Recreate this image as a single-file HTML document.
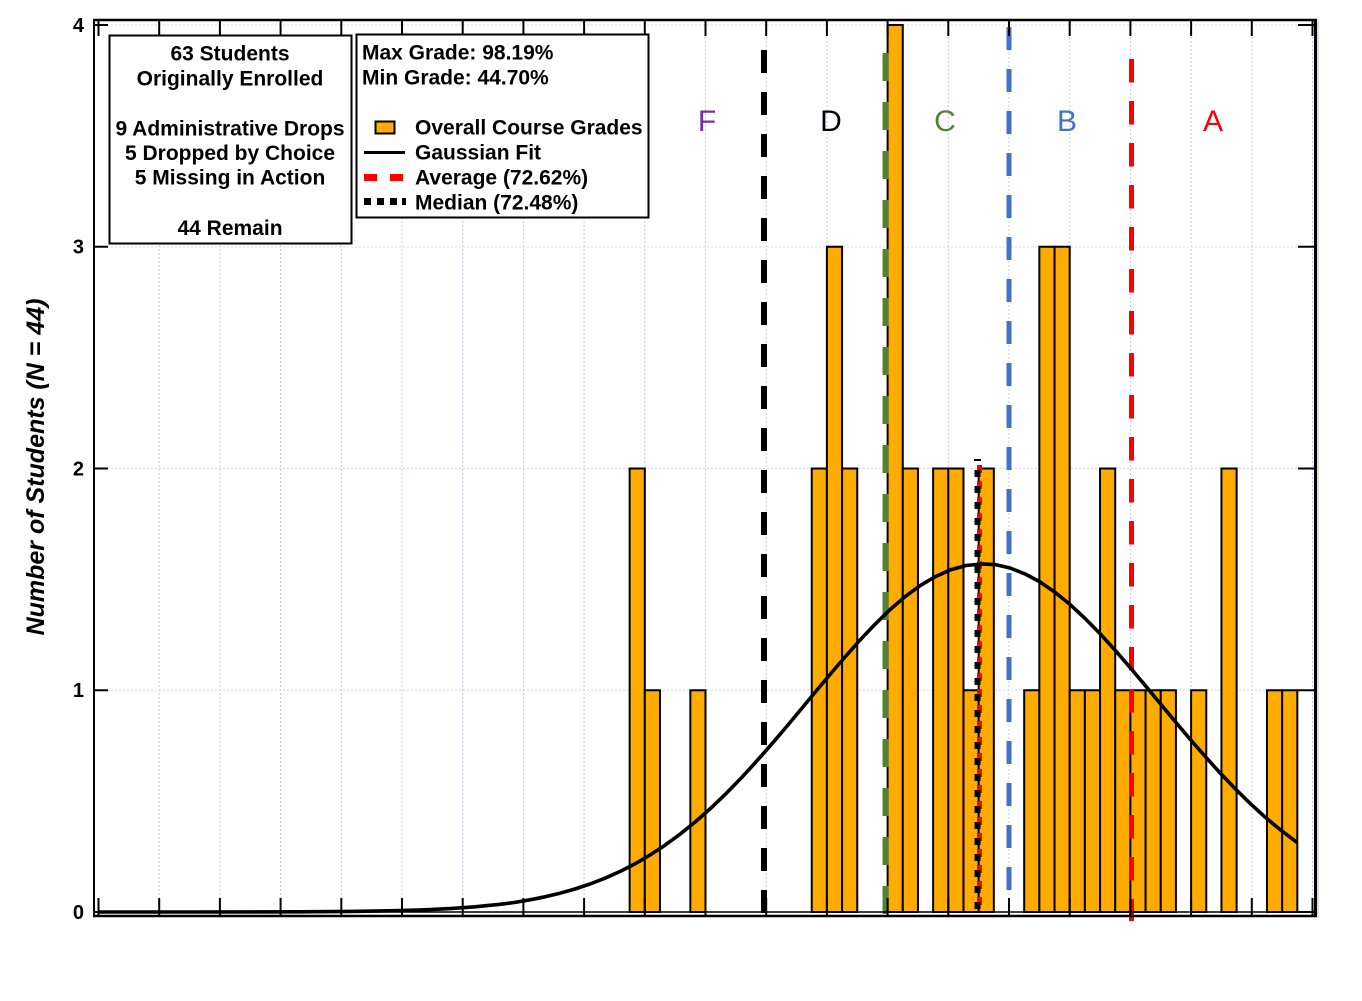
<!DOCTYPE html>
<html>
<head>
<meta charset="utf-8">
<style>
  html, body { margin: 0; padding: 0; background: #ffffff; }
  svg { display: block; }
  .t { font-family: "Liberation Sans", Arial, sans-serif; font-weight: bold; fill: #000; }
</style>
</head>
<body>
<svg width="1362" height="1001" viewBox="0 0 1362 1001" xmlns="http://www.w3.org/2000/svg">
  <rect x="0" y="0" width="1362" height="1001" fill="#ffffff"/>

  <!-- vertical grid lines -->
  <g stroke="#c4c4ff" stroke-width="1" stroke-dasharray="2,2">
    <line x1="159.2" y1="21" x2="159.2" y2="912"/>
    <line x1="219.9" y1="21" x2="219.9" y2="912"/>
    <line x1="280.6" y1="21" x2="280.6" y2="912"/>
    <line x1="341.3" y1="21" x2="341.3" y2="912"/>
    <line x1="402" y1="21" x2="402" y2="912"/>
    <line x1="462.7" y1="21" x2="462.7" y2="912"/>
    <line x1="523.4" y1="21" x2="523.4" y2="912"/>
    <line x1="584.1" y1="21" x2="584.1" y2="912"/>
    <line x1="644.8" y1="21" x2="644.8" y2="912"/>
    <line x1="705.5" y1="21" x2="705.5" y2="912"/>
    <line x1="766.2" y1="21" x2="766.2" y2="912"/>
    <line x1="826.9" y1="21" x2="826.9" y2="912"/>
    <line x1="887.6" y1="21" x2="887.6" y2="912"/>
    <line x1="948.3" y1="21" x2="948.3" y2="912"/>
    <line x1="1009" y1="21" x2="1009" y2="912"/>
    <line x1="1069.7" y1="21" x2="1069.7" y2="912"/>
    <line x1="1130.4" y1="21" x2="1130.4" y2="912"/>
    <line x1="1191.1" y1="21" x2="1191.1" y2="912"/>
    <line x1="1251.8" y1="21" x2="1251.8" y2="912"/>
    <line x1="1312.5" y1="21" x2="1312.5" y2="912"/>
  </g>
  <!-- horizontal grid lines -->
  <g stroke="#d4d4ff" stroke-width="1" stroke-dasharray="2,2">
    <line x1="95" y1="25" x2="1315" y2="25"/>
    <line x1="95" y1="247" x2="1315" y2="247"/>
    <line x1="95" y1="468.5" x2="1315" y2="468.5"/>
    <line x1="95" y1="690.25" x2="1315" y2="690.25"/>
  </g>

  <!-- bars -->
  <g fill="#ffab00" stroke="#000" stroke-width="2">
    <rect x="629.63" y="468.5" width="15.17" height="443.5"/>
    <rect x="644.8" y="690.25" width="15.17" height="221.75"/>
    <rect x="690.33" y="690.25" width="15.17" height="221.75"/>
    <rect x="811.73" y="468.5" width="15.17" height="443.5"/>
    <rect x="826.9" y="246.75" width="15.17" height="665.25"/>
    <rect x="842.08" y="468.5" width="15.17" height="443.5"/>
    <rect x="887.6" y="25" width="15.17" height="887"/>
    <rect x="902.78" y="468.5" width="15.17" height="443.5"/>
    <rect x="933.13" y="468.5" width="15.17" height="443.5"/>
    <rect x="948.3" y="468.5" width="15.17" height="443.5"/>
    <rect x="963.48" y="690.25" width="15.17" height="221.75"/>
    <rect x="978.65" y="468.5" width="15.17" height="443.5"/>
    <rect x="1024.18" y="690.25" width="15.17" height="221.75"/>
    <rect x="1039.35" y="246.75" width="15.17" height="665.25"/>
    <rect x="1054.53" y="246.75" width="15.17" height="665.25"/>
    <rect x="1069.7" y="690.25" width="15.17" height="221.75"/>
    <rect x="1084.88" y="690.25" width="15.17" height="221.75"/>
    <rect x="1100.05" y="468.5" width="15.17" height="443.5"/>
    <rect x="1115.23" y="690.25" width="15.17" height="221.75"/>
    <rect x="1130.4" y="690.25" width="15.17" height="221.75"/>
    <rect x="1145.58" y="690.25" width="15.17" height="221.75"/>
    <rect x="1160.75" y="690.25" width="15.17" height="221.75"/>
    <rect x="1191.1" y="690.25" width="15.17" height="221.75"/>
    <rect x="1221.45" y="468.5" width="15.17" height="443.5"/>
    <rect x="1266.98" y="690.25" width="15.17" height="221.75"/>
    <rect x="1282.15" y="690.25" width="15.17" height="221.75"/>
  </g>

  <!-- grade boundary lines -->
  <line x1="764" y1="50" x2="764" y2="915" stroke="#000" stroke-width="6" stroke-dasharray="23,19"/>
  <line x1="885.5" y1="53" x2="885.5" y2="915" stroke="#548235" stroke-width="6" stroke-dasharray="28,21"/>
  <line x1="1009" y1="27" x2="1009" y2="890" stroke="#4472c4" stroke-width="5" stroke-dasharray="23,19"/>
  <line x1="1131.5" y1="59" x2="1131.5" y2="921" stroke="#ff0000" stroke-width="5" stroke-dasharray="23.5,18.5"/>

  <!-- average (red) and median (black) -->
  <line x1="979.5" y1="465" x2="979.5" y2="912" stroke="#ff0000" stroke-width="5" stroke-dasharray="8,8"/>
  <line x1="977.5" y1="470" x2="977.5" y2="912" stroke="#000" stroke-width="6" stroke-dasharray="7,9"/>
  <line x1="974" y1="460" x2="981" y2="460" stroke="#000" stroke-width="2"/>

  <!-- gaussian fit -->
  <path d="M99,912 L200,912 L300,911.8 L350,911.4 L400,910.6 L425,909.8 L450,908.6 L475,906.8 L500,904.3 L515,902.4 L530,899.8 L545,896.8 L560,893.2 L575,889.0 L590,884.0 L605,878.2 L620,871.5 L635,863.8 L650,855.0 L665,845.2 L680,834.2 L695,822.1 L710,808.9 L725,794.6 L740,779.3 L755,763.0 L770,746.0 L785,728.5 L800,710.5 L815,692.4 L830,674.5 L845,657.0 L860,640.1 L875,624.3 L890,609.7 L905,596.7 L920,585.7 L935,576.8 L950,570.0 L966,565.5 L983,563.9 L996,564.7 L1010,568.0 L1025,573.9 L1040,581.9 L1055,592.3 L1070,604.4 L1085,618.4 L1100,633.6 L1115,650.1 L1130,667.4 L1145,685.2 L1160,703.3 L1175,721.3 L1190,739.1 L1205,756.2 L1220,772.9 L1235,788.5 L1250,803.3 L1265,817.0 L1280,829.5 L1296,841.7" fill="none" stroke="#000" stroke-width="3.6" stroke-linejoin="round" stroke-linecap="round"/>

  <!-- axes frame -->
  <line x1="94" y1="19" x2="94" y2="917" stroke="#000" stroke-width="2"/>
  <line x1="93" y1="20" x2="1317" y2="20" stroke="#000" stroke-width="2.5"/>
  <line x1="1315.5" y1="19" x2="1315.5" y2="917" stroke="#000" stroke-width="3"/>
  <line x1="1318" y1="20" x2="1318" y2="918" stroke="#bbbbbb" stroke-width="1"/>
  <line x1="93" y1="912" x2="1316" y2="912" stroke="#000" stroke-width="1.5"/>
  <line x1="93" y1="916" x2="1317" y2="916" stroke="#000" stroke-width="2.5"/>

  <!-- x ticks bottom & top -->
  <g stroke="#000" stroke-width="2">
    <path d="M98.5,898V916 M159.2,898V916 M219.9,898V916 M280.6,898V916 M341.3,898V916 M402,898V916 M462.7,898V916 M523.4,898V916 M584.1,898V916 M644.8,898V916 M705.5,898V916 M766.2,898V916 M826.9,898V916 M887.6,898V916 M948.3,898V916 M1009,898V916 M1069.7,898V916 M1130.4,898V916 M1191.1,898V916 M1251.8,898V916 M1312.5,898V916"/>
    <path d="M98.5,20V36 M159.2,20V36 M219.9,20V36 M280.6,20V36 M341.3,20V36 M402,20V36 M462.7,20V36 M523.4,20V36 M584.1,20V36 M644.8,20V36 M705.5,20V36 M766.2,20V36 M826.9,20V36 M887.6,20V36 M948.3,20V36 M1009,20V36 M1069.7,20V36 M1130.4,20V36 M1191.1,20V36 M1251.8,20V36 M1312.5,20V36"/>
    <!-- y ticks left & right -->
    <path d="M94,912H108 M94,690.25H108 M94,468.5H108 M94,246.75H108 M94,25H108"/>
    <path d="M1298,912H1316 M1298,690.25H1316 M1298,468.5H1316 M1298,246.75H1316 M1298,25H1316"/>
  </g>

  <!-- y tick labels -->
  <g class="t" font-size="20" text-anchor="end">
    <text x="84" y="919">0</text>
    <text x="84" y="697">1</text>
    <text x="84" y="475.5">2</text>
    <text x="84" y="253.5">3</text>
    <text x="84" y="32">4</text>
  </g>

  <!-- y axis title -->
  <text class="t" font-size="25" font-style="italic" text-anchor="middle" transform="translate(44,467) rotate(-90)">Number of Students (N = 44)</text>

  <!-- grade letters -->
  <g font-family="'Liberation Sans', Arial, sans-serif" font-size="30" text-anchor="middle">
    <text x="707" y="131" fill="#7030a0">F</text>
    <text x="831" y="131" fill="#000000">D</text>
    <text x="945" y="131" fill="#548235">C</text>
    <text x="1067" y="131" fill="#4472c4">B</text>
    <text x="1213" y="131" fill="#ff0000">A</text>
  </g>

  <!-- info box 1 -->
  <rect x="109.5" y="35.5" width="242" height="208" fill="#fff" stroke="#000" stroke-width="2"/>
  <g class="t" font-size="21" text-anchor="middle">
    <text x="230" y="60.5">63 Students</text>
    <text x="230" y="85.5">Originally Enrolled</text>
    <text x="230" y="135.5">9 Administrative Drops</text>
    <text x="230" y="160">5 Dropped by Choice</text>
    <text x="230" y="184.5">5 Missing in Action</text>
    <text x="230" y="235">44 Remain</text>
  </g>

  <!-- info / legend box 2 -->
  <rect x="356.5" y="34.5" width="292" height="183" fill="#fff" stroke="#000" stroke-width="2"/>
  <g class="t" font-size="21">
    <text x="362" y="59.5">Max Grade: 98.19%</text>
    <text x="362" y="84.5">Min Grade: 44.70%</text>
    <text x="415" y="134.5">Overall Course Grades</text>
    <text x="415" y="159.5">Gaussian Fit</text>
    <text x="415" y="184.5">Average (72.62%)</text>
    <text x="415" y="209.5">Median (72.48%)</text>
  </g>
  <rect x="375.5" y="121.5" width="19" height="12" fill="#ffab00" stroke="#000" stroke-width="2"/>
  <line x1="364" y1="152.5" x2="405" y2="152.5" stroke="#000" stroke-width="3"/>
  <rect x="364" y="174" width="13" height="7" fill="#ff0000"/>
  <rect x="390" y="174" width="13" height="7" fill="#ff0000"/>
  <rect x="364" y="198" width="7" height="7" fill="#000"/>
  <rect x="377" y="198" width="7" height="7" fill="#000"/>
  <rect x="390" y="198" width="7" height="7" fill="#000"/>
  <rect x="402" y="198" width="4" height="7" fill="#000"/>
</svg>
</body>
</html>
